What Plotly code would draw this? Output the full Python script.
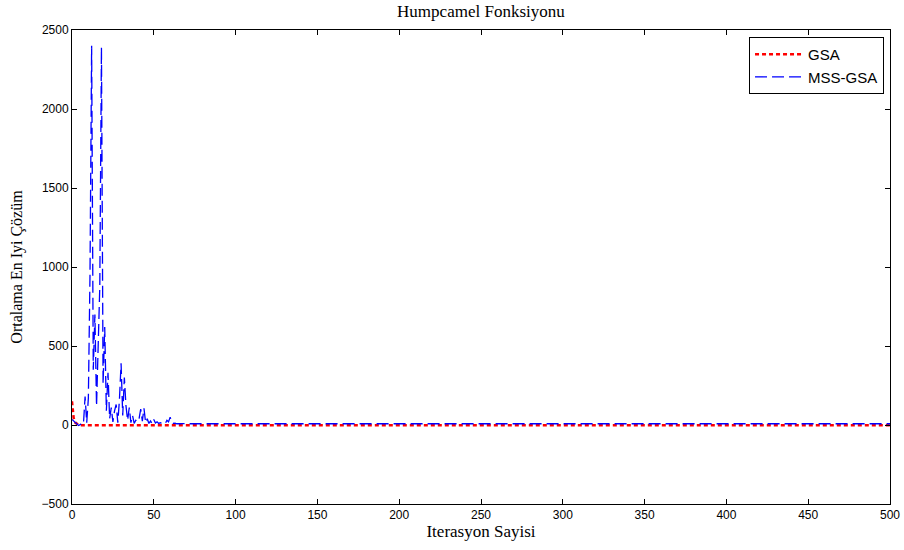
import plotly.graph_objects as go

# Iteration indices where values were read (the tail is flat up to 500)
gsa_iter = [0, 1, 2, 3, 4, 5, 6, 500]
gsa_vals = [150, 45, 15, 5, 0, -1.03, -1.03, -1.03]

mss_iter = list(range(0, 72)) + [500]
mss_vals = [35, 25, 12, 3, -3, 2, 10, 6, 180, 15,
            170, 950, 2400, 350, 700, 120, 550, 880, 2390, 260,
            620, 90, 330, 40, 110, 20, 90, 130, 15, 160,
            390, 60, 300, 120, 30, 110, 15, 60, 10, 30,
            20, 40, 100, 25, 105, 15, 40, 10, 25, 8,
            35, 12, 20, 10, 15, 8, 10, 8, 30, 20,
            50, 15, 10, 12, 8, 10, 8, 9, 8, 8,
            8, 8, 8]

x_ticks = [0, 50, 100, 150, 200, 250, 300, 350, 400, 450, 500]
y_ticks = [-500, 0, 500, 1000, 1500, 2000, 2500]

fig = go.Figure()
fig.add_trace(go.Scatter(x=gsa_iter, y=gsa_vals, mode="lines", name="GSA",
                         line=dict(color="#ff0000", width=2.5, dash="4px,3px")))
fig.add_trace(go.Scatter(x=mss_iter, y=mss_vals, mode="lines", name="MSS-GSA",
                         line=dict(color="#0000ff", width=1.3, dash="12px,5px")))

axis_common = dict(showline=True, linecolor="black", linewidth=1, mirror="ticks",
                   ticks="inside", ticklen=5, tickcolor="black", showgrid=False,
                   zeroline=False, automargin=False,
                   tickfont=dict(family="Liberation Sans, Arial", size=12, color="black"))

fig.update_layout(
    width=904, height=550,
    margin=dict(l=72, r=14, t=30, b=46),
    paper_bgcolor="white", plot_bgcolor="white",
    title=dict(text="Humpcamel Fonksiyonu", x=0.532, xanchor="center", y=0.99, yanchor="top",
               font=dict(family="Liberation Serif, Times New Roman", size=17, color="black")),
    xaxis=dict(range=[0, 500], tickvals=x_ticks,
               title=dict(text="Iterasyon Sayisi", standoff=3,
                          font=dict(family="Liberation Serif, Times New Roman", size=17, color="black")),
               **axis_common),
    yaxis=dict(range=[-500, 2500], tickvals=y_ticks,
               title=dict(text="Ortalama En Iyi Çözüm", standoff=14,
                          font=dict(family="Liberation Serif, Times New Roman", size=16, color="black")),
               **axis_common),
    legend=dict(x=0.9927, y=0.985, xanchor="right", yanchor="top",
                bordercolor="black", borderwidth=1, bgcolor="white",
                font=dict(family="Liberation Sans, Arial", size=15, color="black"),
                itemwidth=48, tracegroupgap=0),
    showlegend=True,
)

fig.write_html("out.html", config={"displayModeBar": False},
               post_script="document.body.style.margin='0';document.body.style.overflow='hidden';")
